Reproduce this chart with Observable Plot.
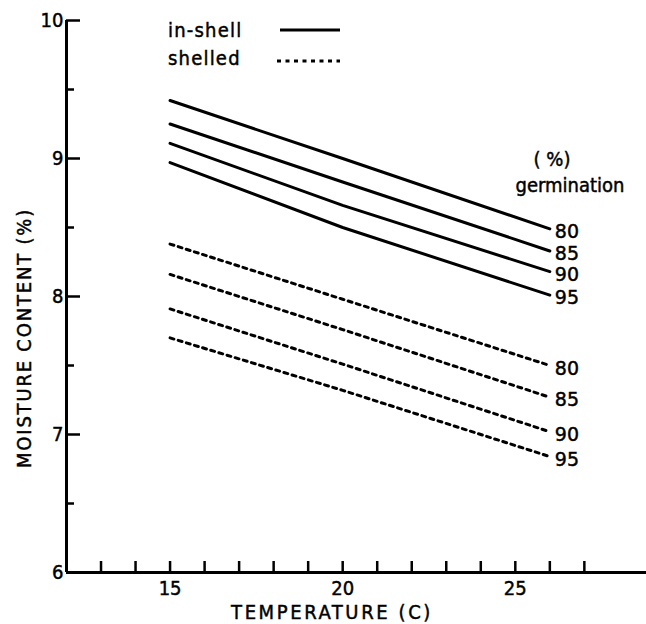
<!DOCTYPE html>
<html><head><meta charset="utf-8">
<script src="https://cdn.jsdelivr.net/npm/d3@7"></script>
<script src="https://cdn.jsdelivr.net/npm/@observablehq/plot@0.6"></script>
<style>
html,body{margin:0;padding:0;background:#fff;}
#chart{width:646px;height:624px;}
svg{font-family:"DejaVu Sans Condensed","DejaVu Sans",sans-serif;}
svg text{stroke:#000;stroke-width:0.45px;fill:#000;}
</style></head><body><div id="chart"></div>
<script>
// ---- data ----
const temperatures = [15, 20, 26];
const germinationLevels = [80, 85, 90, 95];
const inShell80 = [9.42, 9.00, 8.49];
const inShell85 = [9.25, 8.83, 8.33];
const inShell90 = [9.11, 8.66, 8.18];
const inShell95 = [8.97, 8.50, 8.01];
const shelled80 = [8.38, 7.98, 7.50];
const shelled85 = [8.16, 7.76, 7.27];
const shelled90 = [7.91, 7.51, 7.02];
const shelled95 = [7.70, 7.32, 6.84];
const yMajorTicks = [6, 7, 8, 9, 10];
const yMinorTicks = [6.5, 7.5, 8.5, 9.5];
const xTicks = [13, 14, 15, 16, 17, 18, 19, 20, 21, 22, 23, 24, 25, 26, 27];
const xLabeledTicks = [15, 20, 25];
const legendLabels = ["in-shell", "shelled"];
const xTitle = "TEMPERATURE (C)";
const yTitle = "MOISTURE CONTENT (%)";

// ---- build table ----
const series = [
  ["in-shell", 80, inShell80], ["in-shell", 85, inShell85], ["in-shell", 90, inShell90], ["in-shell", 95, inShell95],
  ["shelled", 80, shelled80], ["shelled", 85, shelled85], ["shelled", 90, shelled90], ["shelled", 95, shelled95]
];
const rows = [];
for (const [type, germ, vals] of series) {
  vals.forEach((m, i) => rows.push({type, germ, key: type + germ, t: temperatures[i], m}));
}
const ends = rows.filter(d => d.t === temperatures[temperatures.length - 1]);

const font = '"DejaVu Sans Condensed","DejaVu Sans",sans-serif';

const svg = Plot.plot({
  width: 646,
  height: 624,
  marginLeft: 66,
  marginRight: 0,
  marginTop: 20,
  marginBottom: 52,
  style: {fontFamily: font, fontSize: "20px", color: "#000", background: "#fff"},
  x: {domain: [12, 28.8], label: null},
  y: {domain: [6, 10], label: null},
  marks: [
    Plot.axisY(yMajorTicks, {anchor: "left", tickSize: -14, tickPadding: 17, strokeWidth: 2.5, fontSize: 20,
      tickFormat: d => String(d), label: null}),
    Plot.axisY(yMinorTicks, {anchor: "left", tickSize: -8, tickPadding: 0, strokeWidth: 2.5, tickFormat: () => "", label: null}),
    Plot.axisX(xTicks, {anchor: "bottom", tickSize: -11, tickPadding: 19, strokeWidth: 2.5, fontSize: 20,
      tickFormat: d => xLabeledTicks.includes(d) ? String(d) : "", label: null}),
    Plot.ruleX([12], {strokeWidth: 3}),
    Plot.ruleY([6], {strokeWidth: 3}),
    Plot.line(rows.filter(d => d.type === "in-shell"), {x: "t", y: "m", z: "key", stroke: "#000", strokeWidth: 3}),
    Plot.line(rows.filter(d => d.type === "shelled"), {x: "t", y: "m", z: "key", stroke: "#000", strokeWidth: 3, strokeDasharray: "4,4.5"}),
    Plot.text(ends, {x: "t", y: "m", text: d => String(d.germ), dx: 5, dy: 3, textAnchor: "start", fontSize: 19, fontFamily: "DejaVu Sans"})
  ]
});
document.getElementById("chart").appendChild(svg);

// ---- annotations: titles, legend, germination header ----
const s = d3.select(svg);
s.append("text").attr("transform", "translate(24,338) rotate(-90)")
  .attr("text-anchor", "middle").attr("dominant-baseline", "central")
  .attr("font-size", 20).attr("letter-spacing", 1.8).text(yTitle);
s.append("text").attr("x", 332).attr("y", 619).attr("text-anchor", "middle")
  .attr("font-size", 20).attr("letter-spacing", 2.6).text(xTitle);

const leg = s.append("g");
leg.append("text").attr("x", 168).attr("y", 37).attr("text-anchor", "start").attr("font-size", 20).attr("letter-spacing", 1.2).text(legendLabels[0]);
leg.append("line").attr("x1", 280).attr("x2", 340).attr("y1", 30).attr("y2", 30).attr("stroke", "#000").attr("stroke-width", 3);
leg.append("text").attr("x", 168).attr("y", 65).attr("text-anchor", "start").attr("font-size", 20).attr("letter-spacing", 1.2).text(legendLabels[1]);
leg.append("line").attr("x1", 277).attr("x2", 340).attr("y1", 61).attr("y2", 61).attr("stroke", "#000").attr("stroke-width", 3).attr("stroke-dasharray", "4,4.5");

s.append("text").attr("x", 552).attr("y", 166).attr("text-anchor", "middle").attr("font-size", 20).text("( %)");
s.append("text").attr("x", 570).attr("y", 192).attr("text-anchor", "middle").attr("font-size", 20).text("germination");
</script></body></html>
